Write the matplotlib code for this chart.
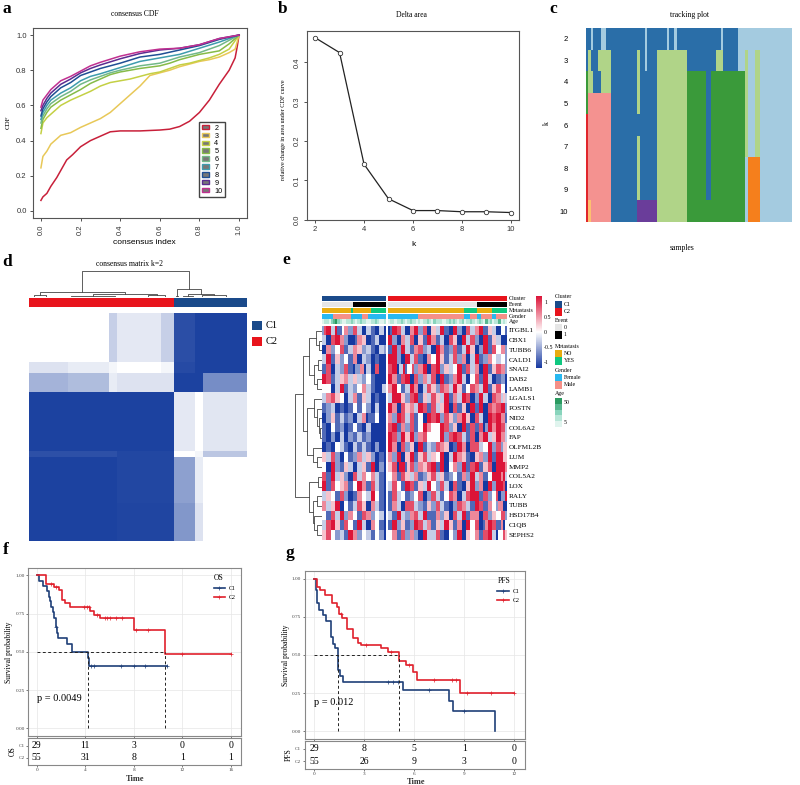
import matplotlib
matplotlib.use("Agg")
import matplotlib.pyplot as plt
import numpy as np
from matplotlib.cm import ScalarMappable
from matplotlib.colors import LinearSegmentedColormap, ListedColormap, Normalize
from matplotlib.lines import Line2D
from matplotlib.patches import Patch, Rectangle

plt.rcParams["font.family"] = ["Liberation Serif", "DejaVu Serif"]
W, H = 800, 785

# a: consensus CDF
cdf_k = ["2", "3", "4", "5", "6", "7", "8", "9", "10"]
cdf_colors = ["#c8203a", "#e8c858", "#c4d044", "#86bb48", "#72b888", "#3e9cae", "#1f4f94", "#5a2c90", "#c03090"]
cdf_curves = [
    ([0, .01, .03, .05, .08, .1, .13, .16, .2, .25, .3, .35, .4, .5, .6, .65, .7, .75, .8, .85, .9, .95, .98, .99, 1],
     [.06, .08, .10, .14, .19, .23, .29, .32, .365, .40, .425, .45, .455, .455, .46, .465, .48, .51, .56, .63, .72, .80, .87, .93, 1]),
    ([0, .01, .03, .05, .08, .1, .15, .2, .25, .3, .35, .4, .45, .5, .55, .6, .65, .7, .75, .8, .85, .9, .95, .98, 1],
     [.245, .31, .34, .38, .41, .43, .445, .475, .50, .525, .56, .61, .66, .71, .77, .785, .80, .82, .835, .85, .86, .875, .90, .92, 1]),
    ([0, .01, .03, .05, .1, .15, .2, .25, .3, .35, .4, .45, .5, .55, .6, .65, .7, .75, .8, .85, .9, .95, 1],
     [.44, .50, .53, .55, .60, .63, .655, .68, .71, .73, .74, .75, .765, .78, .79, .81, .83, .84, .855, .87, .89, .92, 1]),
    ([0, .01, .03, .05, .1, .15, .2, .25, .3, .35, .4, .5, .6, .65, .7, .8, .9, .95, 1],
     [.47, .52, .56, .59, .63, .66, .69, .725, .75, .775, .79, .81, .825, .84, .86, .89, .91, .95, 1]),
    ([0, .01, .03, .05, .1, .15, .2, .25, .3, .35, .4, .5, .6, .7, .8, .9, 1],
     [.5, .54, .58, .61, .65, .68, .72, .745, .765, .785, .80, .825, .84, .875, .90, .94, 1]),
    ([0, .01, .03, .05, .1, .15, .2, .25, .3, .4, .5, .6, .7, .8, .9, 1],
     [.52, .56, .6, .63, .67, .70, .74, .765, .78, .815, .85, .87, .89, .925, .96, 1]),
    ([0, .01, .03, .05, .1, .15, .2, .25, .3, .4, .5, .6, .7, .8, .9, 1],
     [.54, .58, .62, .65, .70, .73, .77, .79, .81, .84, .875, .89, .915, .94, .975, 1]),
    ([0, .01, .03, .05, .1, .15, .2, .25, .3, .4, .5, .6, .7, .8, .9, 1],
     [.57, .6, .64, .67, .72, .75, .785, .81, .83, .865, .895, .915, .925, .945, .98, 1]),
    ([0, .01, .03, .05, .1, .15, .2, .25, .3, .4, .5, .6, .7, .8, .9, 1],
     [.59, .63, .66, .69, .74, .765, .795, .825, .845, .88, .905, .92, .925, .945, .98, 1]),
]

# b: delta area
delta_k = [2, 3, 4, 5, 6, 7, 8, 9, 10]
delta_area = [.463, .425, .141, .053, .023, .023, .02, .02, .018]

# c: tracking plot, (last sample, cluster colour) runs for each k
track_colors = {"b": "#2a6ea8", "l": "#a4cbe0", "g": "#b0d488", "G": "#3a9a3a", "p": "#f49290",
                "r": "#e0262c", "o": "#fdc070", "O": "#f57f1c", "v": "#6a3d9a"}
track_k = [2, 3, 4, 5, 6, 7, 8, 9, 10]
track_runs = [
    [(2, "b"), (3, "l"), (6, "b"), (8, "l"), (24, "b"), (25, "l"), (33, "b"), (34, "l"), (36, "b"), (37, "l"), (55, "b"), (56, "l"), (62, "b"), (84, "l")],
    [(1, "b"), (2, "g"), (5, "b"), (10, "g"), (21, "b"), (22, "g"), (24, "b"), (25, "l"), (29, "b"), (41, "g"), (53, "b"), (56, "g"), (62, "b"), (65, "l"), (66, "g"), (69, "l"), (71, "g"), (84, "l")],
    [(1, "G"), (3, "g"), (6, "b"), (10, "g"), (21, "b"), (22, "g"), (29, "b"), (41, "g"), (49, "G"), (51, "b"), (65, "G"), (66, "g"), (69, "l"), (71, "g"), (84, "l")],
    [(1, "G"), (10, "p"), (21, "b"), (22, "g"), (29, "b"), (41, "g"), (49, "G"), (51, "b"), (65, "G"), (66, "g"), (69, "l"), (71, "g"), (84, "l")],
    [(1, "r"), (10, "p"), (29, "b"), (41, "g"), (49, "G"), (51, "b"), (65, "G"), (66, "g"), (69, "l"), (71, "g"), (84, "l")],
    [(1, "r"), (10, "p"), (21, "b"), (22, "g"), (29, "b"), (41, "g"), (49, "G"), (51, "b"), (65, "G"), (66, "g"), (69, "l"), (71, "g"), (84, "l")],
    [(1, "r"), (10, "p"), (21, "b"), (22, "g"), (29, "b"), (41, "g"), (49, "G"), (51, "b"), (65, "G"), (66, "l"), (71, "O"), (84, "l")],
    [(1, "r"), (10, "p"), (21, "b"), (22, "g"), (29, "b"), (41, "g"), (49, "G"), (51, "b"), (65, "G"), (66, "l"), (71, "O"), (84, "l")],
    [(1, "r"), (2, "o"), (10, "p"), (21, "b"), (29, "v"), (41, "g"), (65, "G"), (66, "l"), (71, "O"), (84, "l")],
]

# d: consensus matrix, blocks of samples
cons_col_sizes = [15, 16, 3, 17, 5, 8, 3, 17]
cons_row_sizes = [18, 4, 7, 22, 2, 17, 14]
cons_levels = [
    [0, 0, .25, .12, .25, .93, 1, 1],
    [.15, .1, .05, 0, .05, .95, 1, 1],
    [.4, .35, .1, .15, .15, 1, 1, .6],
    [1, 1, 1, 1, 1, .12, 0, .13],
    [.92, .92, .92, .97, .97, 0, .05, .3],
    [1, 1, 1, .97, .97, .5, .1, 0],
    [1, 1, 1, .98, .98, .55, .15, 0],
]
# nested (height, left, right), a leaf is its number of samples
cons_tree = (1.0,
             (.2, (.06, 4, 5), (.1, (.05, 14, 20), (.06, 6, 7))),
             (.32, (.04, 1, 1), (.12, (.05, 3, 4), (.07, 3, 16))))

# e: expression heatmap, digits 0 (blue) to 8 (red)
genes = ["ITGBL1", "CBX1", "TUBB6", "CALD1", "SNAI2", "DAB2", "LAMB1", "LGALS1", "POSTN", "NID2", "COL6A2",
         "FAP", "OLFML2B", "LUM", "MMP2", "COL5A2", "LOX", "RALY", "TUBB", "HSD17B4", "C1QB", "SEPHS2"]
expr_c1 = [
    "2788338114 6622773300 331100330",
    "3300778866 2200016655 001133000",
    "0066224477 1133665522 331100332",
    "3388115522 4411660033 220011000",
    "1177003322 7711022660 330077000",
    "8877113355 6633553322 441100000",
    "4444003388 1133224466 331100033",
    "3366775544 0033661155 330011000",
    "1122330011 0011441144 220033000",
    "0022551133 1122003366 011144000",
    "1100441122 0011441100 330000000",
    "1100220033 0022113311 220000000",
    "0011004433 1100331133 110022000",
    "5533772200 4411226633 552200110",
    "4400882211 5533003355 118800220",
    "7711883355 2200773366 446633110",
    "8811774455 6611448866 117733110",
    "3355441177 2200116644 338844110",
    "6633558800 4411337755 006633110",
    "4411773388 2266441177 662244330",
    "3377885511 7744118833 006644110",
    "5577442233 1188662244 331144220",
]
expr_c2 = [
    "0188773300 6688227700 5533881100 8822007733 6688115533 00441",
    "8822006633 7700551188 6611330077 5500883377 2200881155 33000",
    "1188228833 1166772233 0088661122 7711338855 0022881177 44662",
    "8888220088 3377110066 4488551133 7722660033 8811226644 33442",
    "7788033814 4722668800 7788225533 4488117733 6600881155 77662",
    "8866117788 0077226633 7700881122 6688330044 7711883300 11220",
    "6688441133 8866003377 5522776633 8855114477 6633881155 77440",
    "3388885522 7788115533 7755338811 6633887700 2288330077 66353",
    "8866007755 6633887711 7733558800 7711550088 1188007766 77882",
    "6622887733 7711440088 7788227755 2266885500 7733008877 88661",
    "7788116622 7711448866 4444887722 5500881177 1177028866 88773",
    "8877228855 8822667744 4444882277 8877331177 0066883355 88663",
    "8866007722 5500881133 2277665500 1188660077 7733448822 77255",
    "6622880055 8811557733 5544880033 8866551100 5566228811 88855",
    "5577088815 7722665577 8811880044 6622881177 8811557700 88886",
    "4466117755 3366112255 7733551122 4411662288 3366114488 88683",
    "3377441188 7711553388 4422773300 7711005588 2266008822 88870",
    "1177334411 2244770022 7733114477 6600337788 8811772244 70228",
    "1166330077 7733221155 2277331100 2277663311 8877116644 26600",
    "3311883322 6677338811 1166225500 7733881166 6600772255 44772",
    "1188225511 2288773366 1155338855 1166008844 7700168877 11604",
    "4466117722 6622008833 3377110044 2288005544 6611778833 04475",
]
gene_tree = (1.0,
             (.72, (.5, (.22, 0, (.12, 1, 2)), (.3, (.15, 3, 4), (.2, 5, 6))),
              (.55, (.3, 7, (.2, 8, (.12, 9, (.08, 10, 11)))), (.35, 12, (.2, 13, 14)))),
             (.5, (.15, 15, 16), (.35, (.18, 17, 18), (.3, 19, (.2, 20, 21)))))

anno_names = ["Cluster", "Event", "Metastasis", "Gender", "Age"]
event_c1, event_c2 = [(14, "0"), (15, "1")], [(41, "0"), (14, "1")]
meta_c1, meta_c2 = [(13, "NO"), (1, "YES"), (8, "NO"), (7, "YES")], [(35, "NO"), (6, "YES"), (7, "NO"), (7, "YES")]
gender_c1 = [(5, "Female"), (8, "Male"), (5, "Female"), (3, "Male"), (8, "Female")]
gender_c2 = [(14, "Female"), (21, "Male"), (3, "Female"), (3, "Male"), (2, "Female"), (5, "Male"), (2, "Female"), (5, "Male")]
age_c1 = "01102342100112101211001121001"
age_c2 = "0110112101211010112102111001212101201121012103120113010"
anno_colors = {"C1": "#1a4a8a", "C2": "#e8141c", "0": "#e6e6e6", "1": "#000000", "NO": "#e8ac10", "YES": "#10c880",
               "Female": "#28b8f0", "Male": "#f59088"}
age_colors = ["#e0f4ee", "#b8e6d8", "#88d4bc", "#58b890", "#2a9a60"]

# f and g: survival
os_c1_t = [0, .2, .5, .85, 1.0, 1.1, 1.2, 1.35, 1.45, 1.55, 1.65, 1.75, 2.5, 2.9, 4.2, 4.3, 10.7]
os_c1_s = [1, .965, .93, .895, .86, .83, .795, .76, .72, .66, .62, .59, .55, .50, .46, .41, .41]
os_c1_cens = [4.5, 4.7, 6.9, 8, 8.9, 10.7, 1.6]
os_c2_t = [0, .8, 1.4, 1.8, 2.1, 2.3, 2.75, 4.4, 4.7, 5.2, 5.5, 8.0, 10.6, 16]
os_c2_s = [1, .943, .925, .905, .84, .82, .795, .767, .74, .723, .723, .645, .484, .484]
os_c2_cens = [1.2, 1.6, 3.9, 4.1, 4.3, 5.0, 5.6, 5.8, 6.0, 6.5, 7.0, 8.2, 9.2, 12, 16]
os_risk = [[29, 11, 3, 0, 0], [55, 31, 8, 1, 1]]
os_median = [4.2, 10.6]
os_ticks = [0, 4, 8, 12, 16]

pfs_c1_t = [0, .08, .18, .3, .54, .7, .98, 1.1, 1.24, 1.4, 1.54, 1.7, 5.3, 8.07, 8.35, 10.85, 10.86]
pfs_c1_s = [1, .925, .84, .795, .76, .725, .62, .575, .545, .40, .36, .323, .27, .20, .133, .133, 0]
pfs_c1_cens = [4.4, 4.75, 5.05, 6.9, 9.0]
pfs_c2_t = [0, .14, .34, .64, 1.04, 1.34, 1.48, 1.64, 1.94, 2.3, 2.64, 2.78, 4.0, 4.45, 5.08, 5.48, 5.94, 6.18, 8.75, 12]
pfs_c2_s = [1, .948, .925, .89, .84, .816, .77, .74, .67, .61, .58, .568, .548, .52, .463, .432, .386, .336, .25, .25]
pfs_c2_cens = [1.6, 3.1, 4.6, 5.7, 7.2, 8.3, 8.5, 9.2, 10.6, 12]
pfs_risk = [[29, 8, 5, 1, 0], [55, 26, 9, 3, 0]]
pfs_median = [1.4, 5.09]
pfs_ticks = [0, 3, 6, 9, 12]

km_blue, km_red = "#1f3f78", "#e0202c"

fig = plt.figure(figsize=(8, 7.85), dpi=100)


def ax_px(left, top, right, bottom):
    return fig.add_axes([left / W, 1 - bottom / H, (right - left) / W, (bottom - top) / H])


ov = fig.add_axes([0, 0, 1, 1], zorder=10)
ov.set_xlim(0, W)
ov.set_ylim(H, 0)
ov.axis("off")

for letter, x, y in [("a", 7, 9), ("b", 283, 9), ("c", 553, 9), ("d", 7, 262), ("e", 286, 260), ("f", 6, 550), ("g", 290, 553)]:
    ov.text(x, y, letter, fontsize=12.5, fontweight="bold", ha="center", va="center")

# panel a
ax = ax_px(33, 28, 247, 218)
for (xs, ys), col in zip(cdf_curves, cdf_colors):
    ax.plot(xs, ys, color=col, lw=1.1)
ax.set_xlim(-.04, 1.04)
ax.set_ylim(-.04, 1.04)
ax.set_xticks(np.arange(0, 1.01, .2))
ax.set_yticks(np.arange(0, 1.01, .2))
ax.set_xticklabels(["0.0", "0.2", "0.4", "0.6", "0.8", "1.0"], rotation=90, family="Liberation Sans", fontsize=5.5)
ax.set_yticklabels(["0.0", "0.2", "0.4", "0.6", "0.8", "1.0"], family="Liberation Sans", fontsize=5.5)
ax.tick_params(length=2.5, width=.6, pad=2, colors="#333333")
for s in ax.spines.values():
    s.set_color("#555555")
handles = [Patch(facecolor="#777777", edgecolor=c, lw=1) for c in cdf_colors]
ax.legend(handles, cdf_k, loc="lower right", bbox_to_anchor=(.897, .11), borderaxespad=0, fancybox=False, edgecolor="#444444",
          framealpha=1, handlelength=.9, handleheight=.6, labelspacing=.12, borderpad=.35, handletextpad=.8,
          prop={"family": "Liberation Sans", "size": 5.2})
ov.text(135, 14, "consensus CDF", fontsize=5.5, ha="center", va="center")
ov.text(144, 243, "consensus index", fontsize=6, family="Liberation Sans", ha="center", va="center")
ov.text(8, 122, "CDF", fontsize=5, rotation=90, ha="center", va="center")

# panel b
ax = ax_px(307, 31, 519, 220)
ax.plot(delta_k, delta_area, color="#222222", lw=.9, zorder=2)
ax.plot(delta_k, delta_area, "o", ms=3.2, mfc="white", mec="#333333", mew=.6, zorder=3)
ax.set_xlim(1.67, 10.33)
ax.set_ylim(-.001, .48)
ax.set_xticks([2, 4, 6, 8, 10])
ax.set_yticks([0, .1, .2, .3, .4])
ax.set_xticklabels(["2", "4", "6", "8", "10"], family="Liberation Sans", fontsize=5.5)
ax.set_yticklabels(["0.0", "0.1", "0.2", "0.3", "0.4"], rotation=90, va="center", family="Liberation Sans", fontsize=5.5)
ax.tick_params(length=2.5, width=.6, pad=2, colors="#333333")
for s in ax.spines.values():
    s.set_color("#555555")
ov.text(411, 15, "Delta area", fontsize=5.5, ha="center", va="center")
ov.text(413, 245, "k", fontsize=6, family="Liberation Sans", ha="center", va="center")
ov.text(283, 130, "relative change in area under CDF curve", fontsize=4.4, rotation=90, ha="center", va="center")

# panel c
track_codes = list(track_colors)
track_mat = np.zeros((len(track_k), 84), dtype=int)
for i, runs in enumerate(track_runs):
    start = 0
    for end, code in runs:
        track_mat[i, start:end] = track_codes.index(code)
        start = end
ax = ax_px(586, 28, 792, 222)
ax.imshow(track_mat, aspect="auto", cmap=ListedColormap(list(track_colors.values())), vmin=0, vmax=len(track_codes) - 1,
          interpolation="nearest")
ax.set_xticks([])
ax.set_yticks(range(len(track_k)))
ax.set_yticklabels(track_k, family="Liberation Sans", fontsize=5.5)
ax.tick_params(length=0, pad=13)
for s in ax.spines.values():
    s.set_visible(False)
ov.text(689, 15, "tracking plot", fontsize=5.5, ha="center", va="center")
ov.text(682, 248, "samples", fontsize=5.5, ha="center", va="center")
ov.text(547, 123, "k", fontsize=5.5, rotation=90, ha="center", va="center")


def draw_tree(ax, node, pos, horizontal):
    # returns (centre, height) of the node, leaves are placed from pos[0] onward
    if not isinstance(node, tuple):
        centre = pos[0] + node / 2 if horizontal else node + .5
        if horizontal:
            pos[0] += node
        return centre, 0
    h, a, b = node
    ca, ha = draw_tree(ax, a, pos, horizontal)
    cb, hb = draw_tree(ax, b, pos, horizontal)
    if horizontal:
        ax.plot([ca, ca, cb, cb], [ha, h, h, hb], color="#444444", lw=.6)
    else:
        ax.plot([-ha, -h, -h, -hb], [ca, ca, cb, cb], color="#444444", lw=.6)
    return (ca + cb) / 2, h


# panel d
cons_mat = np.repeat(np.repeat(np.array(cons_levels), cons_row_sizes, axis=0), cons_col_sizes, axis=1)
ax = ax_px(29, 313, 247, 541)
ax.imshow(cons_mat, aspect="auto", vmin=0, vmax=1, interpolation="nearest",
          cmap=LinearSegmentedColormap.from_list("cons", ["#ffffff", "#1c42a0"]))
ax.axis("off")
ax = ax_px(29, 298, 247, 307)
ax.imshow([[0] * 56 + [1] * 28], aspect="auto", cmap=ListedColormap([anno_colors["C2"], anno_colors["C1"]]), interpolation="nearest")
ax.axis("off")
ax = ax_px(29, 271, 247, 297)
draw_tree(ax, cons_tree, [0], True)
ax.set_xlim(0, 84)
ax.set_ylim(0, 1.0)
ax.axis("off")
ov.text(129, 264, "consensus matrix k=2", fontsize=5.5, ha="center", va="center")
for label, y0, col in [("C1", 321, anno_colors["C1"]), ("C2", 337, anno_colors["C2"])]:
    ov.add_patch(Rectangle((252, y0), 10, 9, color=col, lw=0))
    ov.text(266, y0 + 4.5, label, fontsize=7.5, va="center")

# panel e
heat_cmap = LinearSegmentedColormap.from_list("heat", ["#1638a0", "#ffffff", "#dc1438"])
c1_mat = np.array([[int(ch) for ch in row.replace(" ", "")] for row in expr_c1])
c2_mat = np.array([[int(ch) for ch in row.replace(" ", "")] for row in expr_c2])
for mat, l, r in [(c1_mat, 322, 385.5), (c2_mat, 388, 507)]:
    ax = ax_px(l, 326, r, 540)
    ax.imshow(mat, aspect="auto", cmap=heat_cmap, vmin=0, vmax=8, interpolation="nearest")
    ax.axis("off")


def expand(runs):
    return [label for n, label in runs for _ in range(n)]


anno_rows = [(["C1"] * 29, ["C2"] * 55), (expand(event_c1), expand(event_c2)), (expand(meta_c1), expand(meta_c2)),
             (expand(gender_c1), expand(gender_c2))]
anno_tops = [296, 302, 307.7, 313.7, 319]
anno_keys = list(anno_colors)
for top, (row1, row2) in zip(anno_tops, anno_rows):
    for row, l, r in [(row1, 322, 385.5), (row2, 388, 507)]:
        ax = ax_px(l, top, r, top + 5)
        ax.imshow([[anno_keys.index(v) for v in row]], aspect="auto", interpolation="nearest",
                  cmap=ListedColormap(list(anno_colors.values())), vmin=0, vmax=len(anno_keys) - 1)
        ax.axis("off")
for row, l, r in [(age_c1, 322, 385.5), (age_c2, 388, 507)]:
    ax = ax_px(l, anno_tops[4], r, anno_tops[4] + 5)
    ax.imshow([[int(ch) for ch in row]], aspect="auto", interpolation="nearest", cmap=ListedColormap(age_colors), vmin=0, vmax=4)
    ax.axis("off")
for name, top in zip(anno_names, anno_tops):
    ov.text(508.5, top + 2.6, name, fontsize=4.2, va="center")
row_h = 214 / 22
for i, gene in enumerate(genes):
    ov.text(508.5, 326 + row_h * (i + .5), gene, fontsize=5.2, va="center")
ax = ax_px(295, 326, 322, 540)
draw_tree(ax, gene_tree, None, False)
ax.set_xlim(-1.0, 0)
ax.set_ylim(22, 0)
ax.axis("off")

cax = ax_px(536, 296, 542, 368)
cb = fig.colorbar(ScalarMappable(Normalize(-1.2, 1.2), heat_cmap), cax=cax)
cb.set_ticks([-1, -.5, 0, .5, 1])
cb.set_ticklabels(["-1", "-0.5", "0", "0.5", "1"])
cb.ax.tick_params(length=0, labelsize=4.2, pad=1.5)
cb.outline.set_visible(False)

legend_groups = [("Cluster", 297, 301, ["C1", "C2"]), ("Event", 321, 324, ["0", "1"]),
                 ("Metastasis", 346, 350, ["NO", "YES"]), ("Gender", 371, 374, ["Female", "Male"])]
for title, ty, top, labels in legend_groups:
    ov.text(555, ty, title, fontsize=4.2, va="center")
    for j, lab in enumerate(labels):
        ov.add_patch(Rectangle((555, top + j * 7.3), 7, 7.3, color=anno_colors[lab], lw=0))
        ov.text(564, top + j * 7.3 + 3.6, lab, fontsize=4.2, va="center")
ov.text(555, 394, "Age", fontsize=4.2, va="center")
for j, col in enumerate(age_colors[::-1]):
    ov.add_patch(Rectangle((555, 398 + j * 5.8), 7, 5.8, color=col, lw=0))
ov.text(564, 402, "50", fontsize=4.2, va="center")
ov.text(564, 423, "5", fontsize=4.2, va="center")


# panels f and g
def km_panel(box, table_box, xlim, ylim, tlim, ticks, c1, c2, risk, medians, name, p_text, p_xy, leg_anchor, time_y):
    ax = ax_px(*box)
    ax.set_axisbelow(True)
    ax.grid(True, color="#e6e6e6", lw=.5)
    ax.set_xticks(ticks)
    ax.set_yticks([0, .25, .5, .75, 1])
    ax.set_yticklabels(["0.00", "0.25", "0.50", "0.75", "1.00"], fontsize=3.8)
    ax.set_xticklabels([])
    ax.tick_params(length=1.5, width=.5, pad=1, colors="#444444")
    for (ts, ss, cens), col in zip((c1, c2), (km_blue, km_red)):
        ax.step(ts, ss, where="post", color=col, lw=1.2)
        cy = [ss[np.searchsorted(ts, t, side="right") - 1] for t in cens]
        ax.plot(cens, cy, "+", color=col, ms=3, mew=.5)
    ax.plot([0, medians[1]], [.5, .5], color="#222222", lw=.7, ls=(0, (3, 2.5)))
    for m in medians:
        ax.plot([m, m], [0, .5], color="#222222", lw=.7, ls=(0, (3, 2.5)))
    ax.set_xlim(*xlim)
    ax.set_ylim(*ylim)
    for s in ax.spines.values():
        s.set_color("#888888")
    ax.set_ylabel("Survival probability", fontsize=5.5, labelpad=1.5)
    ax.text(p_xy[0], p_xy[1], p_text, fontsize=7.5, va="center")
    hs = [Line2D([], [], color=km_blue, lw=1.2, marker="+", ms=3, mew=.5), Line2D([], [], color=km_red, lw=1.2, marker="+", ms=3, mew=.5)]
    ax.legend(hs, ["C1", "C2"], title=name, frameon=False, loc="upper right", bbox_to_anchor=leg_anchor, fontsize=4.2,
              title_fontsize=5.5, handlelength=2, labelspacing=.7, alignment="left", borderpad=.2, handletextpad=.6)

    tb = ax_px(*table_box)
    for row, counts in enumerate(risk):
        for t, n in zip(ticks, counts):
            tb.text(t, row, str(n), fontsize=7, ha="center", va="center")
    tb.set_xlim(*xlim)
    tb.set_ylim(*tlim)
    tb.set_xticks(ticks)
    tb.set_xticklabels(ticks, fontsize=3.8)
    tb.set_yticks([0, 1])
    tb.set_yticklabels(["C1", "C2"], fontsize=3.8)
    tb.tick_params(length=1.5, width=.5, pad=1, colors="#444444")
    for s in tb.spines.values():
        s.set_color("#888888")
    tb.set_ylabel(name, fontsize=5.5, labelpad=1.5)
    ov.text((box[0] + box[2]) / 2 + 1, time_y, "Time", fontsize=6, ha="center", va="center", fontweight="bold", color="#333333")


km_panel((28, 568.3, 240.7, 735.7), (28, 738, 240.7, 765), (-.72, 16.8), (-.048, 1.046), (1.6, -.64), os_ticks,
         (os_c1_t, os_c1_s, os_c1_cens), (os_c2_t, os_c2_s, os_c2_cens), os_risk, os_median, "OS", "p = 0.0049", (0, .195),
         (.995, .99), 779)
km_panel((304.7, 571.3, 524.7, 739), (304.7, 741.3, 524.7, 768.7), (-.58, 12.64), (-.05, 1.048), (1.58, -.59), pfs_ticks,
         (pfs_c1_t, pfs_c1_s, pfs_c1_cens), (pfs_c2_t, pfs_c2_s, pfs_c2_cens), pfs_risk, pfs_median, "PFS", "p = 0.012", (0, .19),
         (.995, .99), 782)

fig.savefig("out.png", dpi=100)
